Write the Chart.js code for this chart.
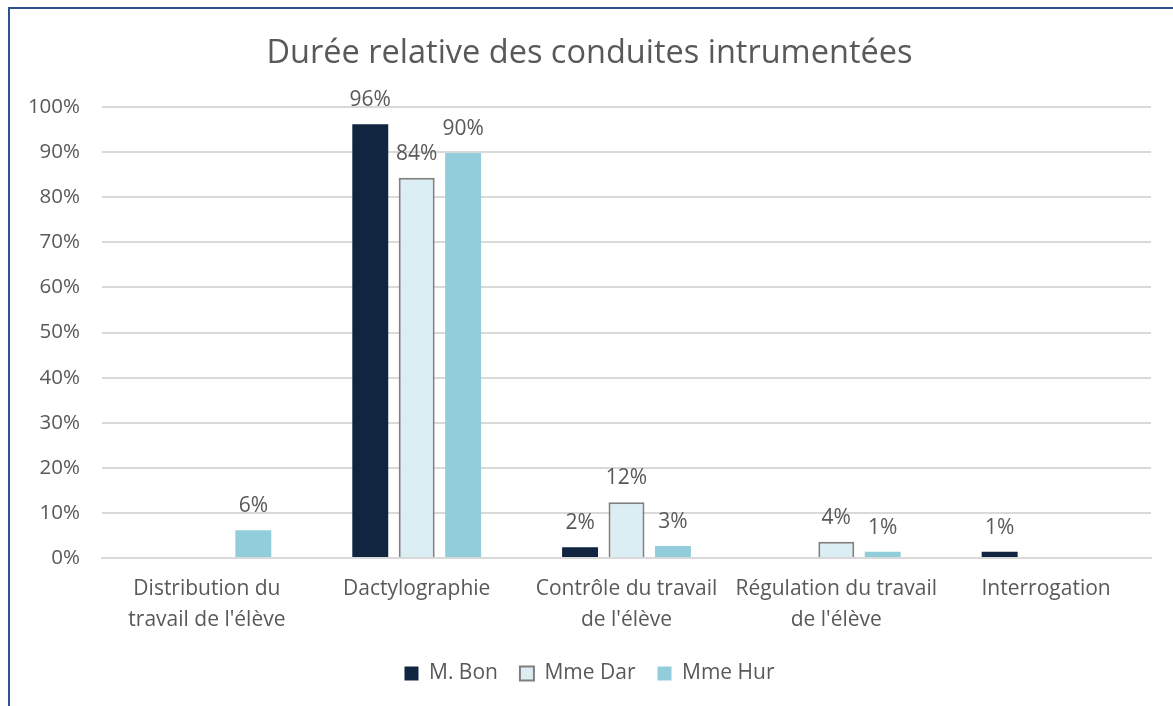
<!DOCTYPE html>
<html>
<head>
<meta charset="utf-8">
<script src="https://cdn.jsdelivr.net/npm/chart.js@4.4.0/dist/chart.umd.min.js"></script>
<style>
  html, body { margin: 0; padding: 0; background: #fff; overflow: hidden; }
  #frame { position: absolute; left: 8px; top: 7px; width: 1400px; height: 900px; border: 2px solid #2f5290; }
  #wrap { position: absolute; left: 0; top: 0; width: 1173px; height: 706px; }
</style>
</head>
<body>
<div id="frame"></div>
<div id="wrap"><canvas id="chart" width="1173" height="706"></canvas></div>
<script>
'use strict';
const categories = [
    ['Distribution du', "travail de l'élève"],
    'Dactylographie',
    ['Contrôle du travail', "de l'élève"],
    ['Régulation du travail', "de l'élève"],
    'Interrogation'
];
const seriesNames = ['M. Bon', 'Mme Dar', 'Mme Hur'];
const bonValues = [0, 96.2, 2.4, 0, 1.4];
const darValues = [0, 84.3, 12.4, 3.6, 0];
const hurValues = [6.2, 89.8, 2.7, 1.4, 0];
const yTicks = [0, 10, 20, 30, 40, 50, 60, 70, 80, 90, 100];

const textColor = '#595959';
const font = 'Open Sans, sans-serif';

const barLabels = {
    id: 'barLabels',
    afterDatasetsDraw(chart) {
        const ctx = chart.ctx;
        ctx.save();
        ctx.font = '21px ' + font;
        ctx.fillStyle = textColor;
        ctx.textAlign = 'center';
        ctx.textBaseline = 'alphabetic';
        chart.data.datasets.forEach((ds, i) => {
            const meta = chart.getDatasetMeta(i);
            meta.data.forEach((bar, j) => {
                const v = ds.data[j];
                if (!v) return;
                ctx.fillText(Math.round(v) + '%', bar.x, bar.y - 18);
            });
        });
        ctx.restore();
    }
};

new Chart(document.getElementById('chart'), {
    type: 'bar',
    data: {
        labels: categories,
        datasets: [
            { label: seriesNames[0], data: bonValues, backgroundColor: '#112540', borderWidth: 0 },
            { label: seriesNames[1], data: darValues, backgroundColor: '#daeef3', borderColor: '#7f7f7f', borderWidth: 2 },
            { label: seriesNames[2], data: hurValues, backgroundColor: '#92cddc', borderWidth: 0 }
        ]
    },
    options: {
        responsive: false,
        animation: false,
        categoryPercentage: 0.664,
        barPercentage: 0.774,
        layout: { padding: { left: 28, right: 22, top: 34, bottom: 12 } },
        plugins: {
            title: {
                display: true,
                text: 'Durée relative des conduites intrumentées',
                color: textColor,
                font: { family: font, size: 32.5, weight: 'normal' },
                padding: { top: 0, bottom: 34 }
            },
            legend: {
                position: 'bottom',
                labels: {
                    color: textColor,
                    font: { family: font, size: 21 },
                    boxWidth: 14,
                    boxHeight: 14,
                    padding: 22
                }
            },
            tooltip: { enabled: false }
        },
        scales: {
            x: {
                afterFit: axis => { axis.height -= 10; },
                grid: { display: false, drawTicks: false },
                border: { color: '#d9d9d9', width: 2 },
                ticks: {
                    color: textColor,
                    font: { family: font, size: 21, lineHeight: 1.45 },
                    padding: 16,
                    maxRotation: 0
                }
            },
            y: {
                min: 0,
                max: 100,
                afterBuildTicks: axis => { axis.ticks = yTicks.map(v => ({ value: v })); },
                afterFit: axis => { axis.width = 74; },
                grid: { color: '#d9d9d9', lineWidth: 2, drawTicks: false },
                border: { display: false },
                ticks: {
                    color: textColor,
                    font: { family: font, size: 20.5 },
                    padding: 22,
                    callback: v => v + '%'
                }
            }
        }
    },
    plugins: [barLabels]
});
</script>
</body>
</html>
